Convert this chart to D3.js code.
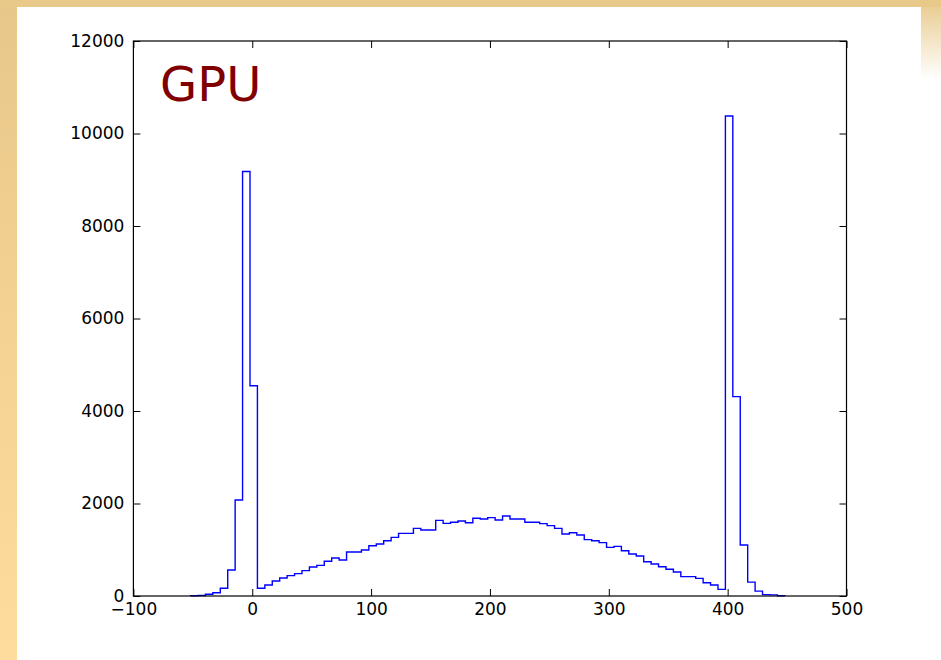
<!DOCTYPE html>
<html>
<head>
<meta charset="utf-8">
<script src="https://cdn.jsdelivr.net/npm/d3@7"></script>
<style>
  body { margin: 0; background: #fff; }
  svg { display: block; }
</style>
</head>
<body>
<div id="chart"></div>
<script>
// histogram bins (80 bins of width 6.25 starting at -51.9)
const binStart = -51.9;
const binWidth = 6.25;
const counts = [
  5, 10, 37, 70, 166, 562, 2076, 9178, 4545, 166,
  238, 324, 389, 440, 483, 548, 627, 663, 750, 822,
  778, 951, 951, 995, 1085, 1124, 1196, 1268, 1355, 1355,
  1463, 1427, 1427, 1636, 1571, 1593, 1622, 1585, 1680, 1665,
  1694, 1643, 1730, 1665, 1665, 1593, 1593, 1564, 1521, 1463,
  1340, 1369, 1319, 1218, 1196, 1153, 1052, 1074, 980, 908,
  865, 742, 692, 634, 577, 519, 418, 418, 382, 288,
  238, 144, 10380, 4310, 1103, 300, 105, 29, 25, 5
];
const xTicks = [-100, 0, 100, 200, 300, 400, 500];
const yTicks = [0, 2000, 4000, 6000, 8000, 10000, 12000];
const label = "GPU";

const W = 941, H = 660;
const plot = { left: 133.4, right: 846.5, top: 41, bottom: 596 };

const svg = d3.select("#chart").append("svg")
  .attr("width", W)
  .attr("height", H);

const defs = svg.append("defs");

// golden frame gradients
const gLeft = defs.append("linearGradient")
  .attr("id", "goldLeft")
  .attr("x1", "0%").attr("y1", "0%")
  .attr("x2", "0%").attr("y2", "100%");
gLeft.append("stop").attr("offset", "0%").attr("stop-color", "#e8c88a");
gLeft.append("stop").attr("offset", "100%").attr("stop-color", "#fedc9e");

const gRight = defs.append("linearGradient")
  .attr("id", "goldRight")
  .attr("x1", "0%").attr("y1", "0%")
  .attr("x2", "0%").attr("y2", "100%");
gRight.append("stop").attr("offset", "0%").attr("stop-color", "#e8c98a");
gRight.append("stop").attr("offset", "12%").attr("stop-color", "#ffffff");

defs.append("clipPath")
  .attr("id", "plotClip")
  .append("rect")
  .attr("x", plot.left - 1)
  .attr("y", plot.top - 1)
  .attr("width", plot.right - plot.left + 2)
  .attr("height", plot.bottom - plot.top + 2);

svg.append("rect").attr("width", W).attr("height", H).attr("fill", "#fff");
svg.append("rect").attr("x", 921).attr("y", 0).attr("width", 20).attr("height", H).attr("fill", "url(#goldRight)");
svg.append("rect").attr("x", 0).attr("y", 0).attr("width", 17).attr("height", H).attr("fill", "url(#goldLeft)");
svg.append("rect").attr("x", 0).attr("y", 0).attr("width", W).attr("height", 7).attr("fill", "#e8c98a");

const x = d3.scaleLinear().domain([-100, 500]).range([plot.left, plot.right]);
const y = d3.scaleLinear().domain([0, 12000]).range([plot.bottom, plot.top]);

// step outline of the histogram
const pts = [[binStart, 0]];
counts.forEach((c, i) => {
  pts.push([binStart + i * binWidth, c]);
  pts.push([binStart + (i + 1) * binWidth, c]);
});
pts.push([binStart + counts.length * binWidth, 0]);

svg.append("path")
  .datum(pts)
  .attr("clip-path", "url(#plotClip)")
  .attr("fill", "none")
  .attr("stroke", "#0000ff")
  .attr("stroke-width", 1.4)
  .attr("stroke-linejoin", "miter")
  .attr("d", d3.line().x(d => x(d[0])).y(d => y(d[1])));

const fmtX = d => d < 0 ? "\u2212" + Math.abs(d) : String(d);
const tickLen = 7;

function styleAxis(g) {
  g.select(".domain").remove();
  g.selectAll(".tick line").attr("stroke", "#000").attr("stroke-width", 1);
  g.selectAll("text")
    .attr("fill", "#000")
    .style("font-family", "'DejaVu Sans', sans-serif")
    .style("font-size", "17px");
}

svg.append("g")
  .attr("transform", `translate(0,${plot.bottom})`)
  .call(d3.axisBottom(x).tickValues(xTicks).tickFormat(fmtX).tickSize(-tickLen).tickPadding(7))
  .call(styleAxis);

svg.append("g")
  .attr("transform", `translate(0,${plot.top})`)
  .call(d3.axisTop(x).tickValues(xTicks).tickFormat("").tickSize(-tickLen))
  .call(styleAxis);

svg.append("g")
  .attr("transform", `translate(${plot.left},0)`)
  .call(d3.axisLeft(y).tickValues(yTicks).tickFormat(d3.format("d")).tickSize(-tickLen).tickPadding(9))
  .call(styleAxis);

svg.append("g")
  .attr("transform", `translate(${plot.right},0)`)
  .call(d3.axisRight(y).tickValues(yTicks).tickFormat("").tickSize(-tickLen))
  .call(styleAxis);

// frame
svg.append("rect")
  .attr("x", plot.left)
  .attr("y", plot.top)
  .attr("width", plot.right - plot.left)
  .attr("height", plot.bottom - plot.top)
  .attr("fill", "none")
  .attr("stroke", "#000")
  .attr("stroke-width", 1.2);

svg.append("text")
  .attr("x", 160)
  .attr("y", 101)
  .style("font-family", "'DejaVu Sans', sans-serif")
  .style("font-size", "48px")
  .attr("fill", "#800000")
  .text(label);
</script>
</body>
</html>
